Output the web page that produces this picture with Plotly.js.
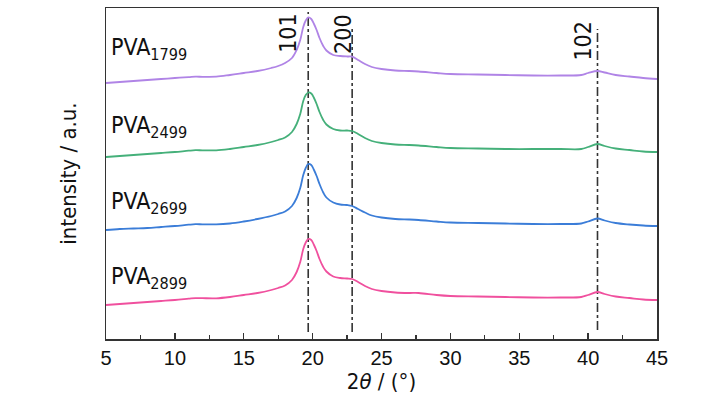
<!DOCTYPE html>
<html>
<head>
<meta charset="utf-8">
<script src="https://cdn.plot.ly/plotly-3.0.1.min.js"></script>
<style>html,body{margin:0;padding:0;background:#fff;}#chart{width:728px;height:399px;}</style>
</head>
<body>
<div id="chart"></div>
<script>
// 2theta positions (degrees)
const twoTheta = [5,6,7,8,9,10,11,11.5,12,13,14,15,16,17,17.5,18,18.5,18.84,19.1,19.32,19.5,19.68,19.9,20.1,20.29,20.5,20.77,21,21.5,22,22.5,22.87,23.3,23.8,24.3,25,26,27,27.7,29,30,32,34,36,38,39.5,40,40.68,41.2,42,43,44,45];

// intensities (a.u., stacked with offsets as in the figure)
const pva1799 = [256,257,258,259,260,261,261.8,262.3,262.2,262.3,264,266,268,271,273,276,281,289,299,312,318.5,321.5,320,315,309,301,293,288.5,284,283,282.5,282.3,279,275,272,270,268.5,268,267.5,266,265,264.5,264,263.5,263.5,264,266,268,266.5,264,262.5,261,260];
const pva2499 = [182,183,184,185,186,187,188.3,188.8,188.7,188.6,190,192,194,197,199,201.5,207,215,225,238,244,246.5,245.5,241,235,227,219,214.5,210,208.5,208.5,208,205,201,198,196,194.5,194,193.5,192,191,190.5,190,190,190,190,192,195,193,190.5,189,187.5,187];
const pva2699 = [109,110,110.5,111,112,113,114.3,114.8,114.7,114.6,115.5,117.5,120,123,125,127.5,133,141,151,164,171,175,174,169,163,155,146.5,141.5,136.5,134.5,134,133,130,126.5,123.5,121.5,120,119.5,119,117.5,116.5,116,115.5,115,115,115.5,117.5,120.5,118.5,116,114.5,113.5,113];
const pva2899 = [34,35,36,37,38,39,40.3,40.9,40.8,40.7,42,44,46,49,51,53.5,59,67,77,90,96.5,100,99,94,88,80,72,67.5,62.5,61,60.5,60,57,53,50,48,46.5,46,46,44,43,42.5,42,41.5,41.5,42,44,47,45,42.5,41,39.5,39];

const seriesNames = ["1799","2499","2699","2899"];
const seriesColors = ["#b084e6","#45b07a","#3b7dd8","#f0509e"];
const seriesData = [pva1799, pva2499, pva2699, pva2899];
const labelY = [290, 212, 136, 61];

// reflection markers
const peakPos = [19.68, 22.87, 40.68];
const peakNames = ["101","200","102"];
const peakTop = [327, 312, 310];
const peakBottom = [7, 7, 9];
const peakLabelX = [18.2, 22.2, 39.6];
const peakLabelY = [306, 305, 298];

const narrow = "Liberation Sans Narrow, DejaVu Sans Condensed, Arial, sans-serif";
const sans = "Arial, Liberation Sans, sans-serif";

const traces = [];
for (let i = 0; i < peakPos.length; i++) {
  traces.push({x:[peakPos[i], peakPos[i]], y:[peakBottom[i], peakTop[i]], mode:'lines',
    line:{color:'#333333', width:1.6, dash:'dashdot'}, hoverinfo:'skip', showlegend:false});
}
for (let i = 0; i < seriesData.length; i++) {
  traces.push({x: twoTheta, y: seriesData[i], mode:'lines', name:'PVA'+seriesNames[i],
    line:{color: seriesColors[i], width:1.8, shape:'spline', smoothing:1}, showlegend:false});
}

const annotations = [];
for (let i = 0; i < seriesNames.length; i++) {
  annotations.push({x:5.25, y:labelY[i], xref:'x', yref:'y', xanchor:'left', yanchor:'middle',
    text:'PVA<sub>'+seriesNames[i]+'</sub>', showarrow:false,
    font:{family: narrow, size:23, color:'#111'}});
}
for (let i = 0; i < peakNames.length; i++) {
  annotations.push({x:peakLabelX[i], y:peakLabelY[i], xref:'x', yref:'y', textangle:-90,
    xanchor:'center', yanchor:'middle', text:peakNames[i], showarrow:false,
    font:{family: narrow, size:23, color:'#111'}});
}

const layout = {
  width:728, height:399,
  margin:{l:106, r:71, t:8, b:60, pad:0},
  paper_bgcolor:'#ffffff', plot_bgcolor:'#ffffff',
  showlegend:false,
  xaxis:{range:[5,45], tickvals:[5,10,15,20,25,30,35,40,45], ticks:'inside', ticklen:6, tickwidth:1.3,
    tickcolor:'#333', showline:true, linecolor:'#333', linewidth:1.5, mirror:true, showgrid:false, zeroline:false,
    tickfont:{family:sans, size:20, color:'#111'},
    minor:{tickvals:[7.5,12.5,17.5,22.5,27.5,32.5,37.5,42.5], ticks:'inside', ticklen:4, tickcolor:'#333', showgrid:false},
    title:{text:'2<i>θ</i> / (°)', font:{family:narrow, size:22, color:'#111'}, standoff:6}},
  yaxis:{range:[0,331], showticklabels:false, ticks:'', showline:true, linecolor:'#333', linewidth:1.5, mirror:true,
    showgrid:false, zeroline:false,
    title:{text:'intensity / a.u.', font:{family:narrow, size:22, color:'#111'}, standoff:22}},
  annotations: annotations
};

Plotly.newPlot('chart', traces, layout, {displayModeBar:false, staticPlot:true});
</script>
</body>
</html>
